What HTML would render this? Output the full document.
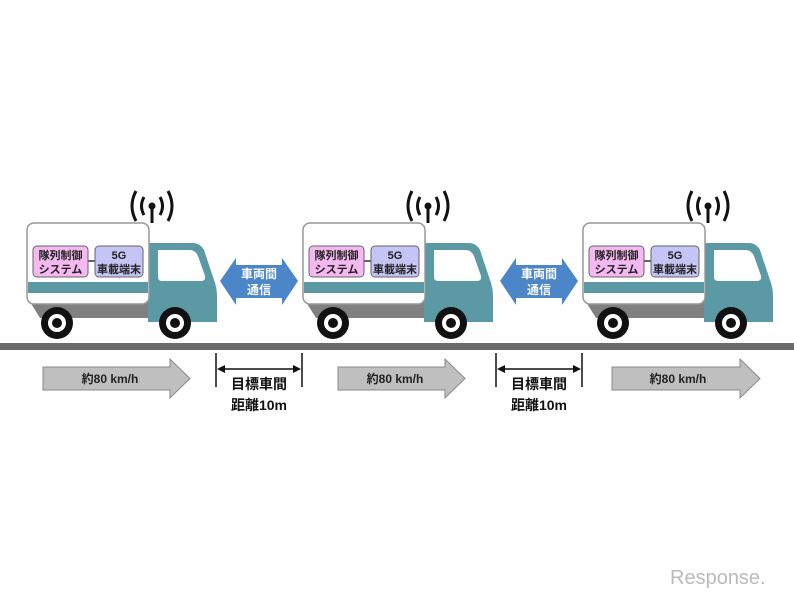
<!DOCTYPE html>
<html><head><meta charset="utf-8"><style>
html,body{margin:0;padding:0;background:#fff;}
svg{display:block;}
text{font-family:"Liberation Sans","Noto Sans CJK JP",sans-serif;font-weight:bold;}
</style></head><body>
<svg width="794" height="596" viewBox="0 0 794 596" xmlns="http://www.w3.org/2000/svg">
<defs>
<g id="truck">
  <path d="M30 302 H210 V318 H40 Z" fill="#808080"/>
  <path d="M148 243 H193 Q200 243 204 250 L214 280 Q217 288 217 296 V322 H148 Z" fill="#5b9aa5"/>
  <path d="M158 250 H190 Q195 250 198 256 L205 276 Q206 281 201 281 H162 Q158 281 158 277 Z" fill="#fff"/>
  <rect x="27" y="223" width="122" height="81" rx="7" fill="#fff" stroke="#999" stroke-width="1.5"/>
  <rect x="28" y="282" width="120" height="11" fill="#5b9aa5"/>
  <line x1="152" y1="206" x2="152" y2="223" stroke="#111" stroke-width="3"/>
  <circle cx="152" cy="206" r="3.5" fill="#111"/>
  <path d="M144 197 Q139 206 144 215 M160 197 Q165 206 160 215" fill="none" stroke="#111" stroke-width="3"/>
  <path d="M136 191 Q128 206 136 221 M168 191 Q176 206 168 221" fill="none" stroke="#111" stroke-width="3"/>
  <circle cx="57" cy="323" r="16" fill="#111"/><circle cx="57" cy="323" r="9" fill="#fff"/><circle cx="57" cy="323" r="5" fill="#111"/>
  <circle cx="175" cy="323" r="16" fill="#111"/><circle cx="175" cy="323" r="9" fill="#fff"/><circle cx="175" cy="323" r="5" fill="#111"/>
  <line x1="88" y1="261" x2="95" y2="261" stroke="#333" stroke-width="1.5"/>
  <rect x="33" y="246" width="55" height="31" rx="4" fill="#f6b8f0" stroke="#666" stroke-width="1"/>
  <rect x="95" y="246" width="48" height="31" rx="4" fill="#c4c4f6" stroke="#666" stroke-width="1"/>
  <text x="60.5" y="259" font-size="11" text-anchor="middle" fill="#222">隊列制御</text>
  <text x="60.5" y="273" font-size="11" text-anchor="middle" fill="#222">システム</text>
  <text x="119" y="259" font-size="11" text-anchor="middle" fill="#222">5G</text>
  <text x="119" y="273" font-size="11" text-anchor="middle" fill="#222">車載端末</text>
</g>
<g id="comm">
  <path d="M220 281 L236 258 V265 H282 V258 L298 281 L282 305 V298 H236 V305 Z" fill="#4a86c8"/>
  <text x="259" y="278" font-size="12" fill="#fff" text-anchor="middle">車両間</text>
  <text x="259" y="294" font-size="12" fill="#fff" text-anchor="middle">通信</text>
  <line x1="216" y1="353" x2="216" y2="387" stroke="#111" stroke-width="1.5"/>
  <line x1="302" y1="353" x2="302" y2="387" stroke="#111" stroke-width="1.5"/>
  <line x1="222" y1="369" x2="296" y2="369" stroke="#111" stroke-width="1.5"/>
  <path d="M217 369 L225 365 V373 Z M301 369 L293 365 V373 Z" fill="#111"/>
  <text x="259" y="389" font-size="14" fill="#111" text-anchor="middle">目標車間</text>
  <text x="259" y="410" font-size="14" fill="#111" text-anchor="middle">距離10m</text>
</g>
</defs>
<use href="#truck"/>
<use href="#truck" transform="translate(276 0)"/>
<use href="#truck" transform="translate(556 0)"/>
<use href="#comm"/>
<use href="#comm" transform="translate(280 0)"/>
<rect x="0" y="343" width="794" height="7" fill="#6b6b6b"/>
<path d="M43 367 H170 V359 L190 378.5 L170 398 V390 H43 Z" fill="#bfbfbf" stroke="#888" stroke-width="1"/>
<path d="M338 367 H445 V359 L465 378.5 L445 398 V390 H338 Z" fill="#bfbfbf" stroke="#888" stroke-width="1"/>
<path d="M612 367 H740 V359 L760 378.5 L740 398 V390 H612 Z" fill="#bfbfbf" stroke="#888" stroke-width="1"/>
<text x="110" y="383" font-size="12" text-anchor="middle" fill="#222">約80 km/h</text>
<text x="395" y="383" font-size="12" text-anchor="middle" fill="#222">約80 km/h</text>
<text x="678" y="383" font-size="12" text-anchor="middle" fill="#222">約80 km/h</text>
<text x="670" y="584" font-size="20" fill="#bbb" style="font-weight:normal">Response.</text>
</svg>
</body></html>
